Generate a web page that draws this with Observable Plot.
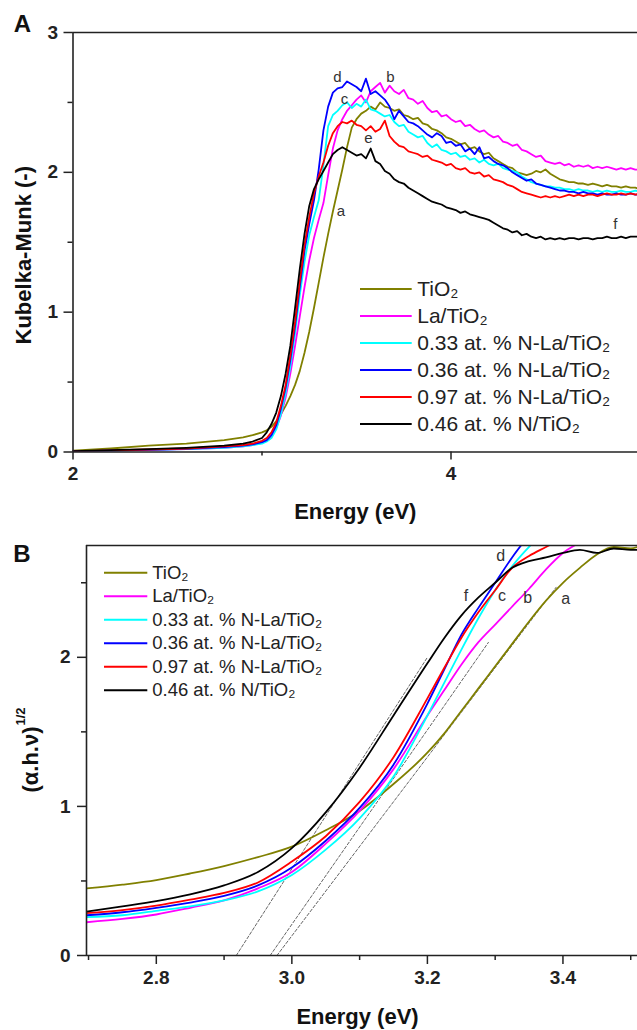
<!DOCTYPE html>
<html>
<head>
<meta charset="utf-8">
<script src="https://cdn.jsdelivr.net/npm/d3@7"></script>
<script src="https://cdn.jsdelivr.net/npm/@observablehq/plot@0.6"></script>
<style>
html,body{margin:0;padding:0;background:#fff;}
#chart{width:637px;height:1030px;overflow:hidden;}
#chart svg{display:block;}
</style>
</head>
<body>
<div id="chart"></div>
<script>
// ---------------- data ----------------
const sampleNames = ["TiO\u2082", "La/TiO\u2082", "0.33 at. % N-La/TiO\u2082", "0.36 at. % N-La/TiO\u2082", "0.97 at. % N-La/TiO\u2082", "0.46 at. % N/TiO\u2082"];
const sampleColors = ["#808000", "#ff00ff", "#00ffff", "#0000ff", "#ff0000", "#000000"];
const sampleLetters = ["a", "b", "c", "d", "e", "f"];

// Panel A : Kubelka-Munk vs energy
const energyA = [2.0,2.2,2.4,2.6,2.8,2.9,2.95,
 3.0,3.025,3.05,3.075,3.1,3.125,3.15,3.175,3.2,3.225,3.25,3.275,3.3,3.325,3.35,3.375,3.4,3.425,3.45,3.475,3.5,
 3.525,3.55,3.575,3.6,3.625,3.65,3.675,3.7,3.725,3.75,3.775,3.8,3.825,3.85,3.875,3.9,3.925,3.95,3.975,4.0,
 4.025,4.05,4.075,4.1,4.125,4.15,4.175,4.2,4.225,4.25,
 4.275,4.3,4.325,4.35,4.375,4.4,4.425,4.45,4.475,4.5,
 4.525,4.55,4.575,4.6,4.625,4.65,4.675,4.7,4.725,4.75,
 4.775,4.8,4.825,4.85,4.875,4.9,4.925,4.95,4.975,5.0];

const kmTiO2 = [0.01,0.025,0.045,0.06,0.085,0.105,0.12,
 0.14,0.155,0.18,0.22,0.27,0.33,0.40,0.48,0.58,0.71,0.86,1.03,1.21,1.39,1.56,1.72,1.87,2.02,2.18,2.32,2.38,
 2.42,2.44,2.47,2.45,2.50,2.47,2.46,2.44,2.45,2.41,2.40,2.38,2.39,2.35,2.34,2.31,2.30,2.28,2.25,2.24,
 2.22,2.20,2.21,2.17,2.18,2.15,2.13,2.14,2.10,2.08,
 2.06,2.04,2.03,2.00,1.99,1.98,1.99,2.01,2.00,2.02,
 1.99,1.97,1.95,1.94,1.93,1.93,1.92,1.92,1.91,1.92,
 1.91,1.90,1.91,1.90,1.90,1.89,1.90,1.89,1.89,1.88];

const kmLaTiO2 = [0.005,0.01,0.015,0.02,0.03,0.04,0.05,
 0.065,0.08,0.11,0.17,0.26,0.39,0.56,0.76,0.97,1.18,1.37,1.53,1.66,1.78,1.98,2.17,2.30,2.38,2.44,2.48,2.52,
 2.55,2.50,2.58,2.61,2.64,2.57,2.62,2.58,2.56,2.59,2.53,2.52,2.49,2.51,2.46,2.43,2.44,2.40,2.41,2.38,
 2.36,2.37,2.33,2.34,2.31,2.29,2.30,2.27,2.25,2.26,
 2.22,2.21,2.19,2.20,2.16,2.15,2.13,2.11,2.12,2.08,
 2.07,2.06,2.07,2.05,2.06,2.04,2.05,2.04,2.05,2.03,
 2.04,2.03,2.04,2.03,2.02,2.03,2.02,2.03,2.02,2.02];

const kmN033 = [0.005,0.01,0.015,0.02,0.03,0.04,0.05,
 0.06,0.075,0.10,0.16,0.27,0.42,0.61,0.85,1.12,1.36,1.55,1.68,1.80,2.05,2.33,2.41,2.44,2.48,2.50,2.46,2.49,
 2.47,2.52,2.45,2.44,2.42,2.40,2.41,2.36,2.33,2.34,2.29,2.27,2.25,2.26,2.21,2.18,2.20,2.16,2.15,2.13,
 2.14,2.11,2.12,2.09,2.10,2.07,2.09,2.06,2.05,2.06,
 2.03,2.02,2.01,2.00,1.97,1.95,1.93,1.92,1.91,1.90,
 1.90,1.89,1.89,1.88,1.88,1.87,1.88,1.87,1.87,1.86,
 1.87,1.86,1.87,1.86,1.86,1.87,1.86,1.86,1.87,1.86];

const kmN036 = [0.005,0.01,0.015,0.022,0.035,0.045,0.055,
 0.07,0.085,0.12,0.19,0.31,0.46,0.66,0.90,1.18,1.44,1.63,1.80,2.02,2.30,2.47,2.57,2.60,2.61,2.65,2.63,2.61,
 2.58,2.67,2.56,2.58,2.55,2.52,2.47,2.38,2.44,2.40,2.36,2.35,2.33,2.30,2.27,2.25,2.28,2.26,2.21,2.22,
 2.19,2.20,2.15,2.17,2.13,2.18,2.10,2.11,2.08,2.06,
 2.05,2.03,2.00,1.98,1.96,1.94,1.95,1.92,1.91,1.90,
 1.89,1.88,1.87,1.87,1.86,1.86,1.85,1.86,1.85,1.85,
 1.84,1.85,1.84,1.84,1.85,1.84,1.84,1.85,1.84,1.84];

const kmN097 = [0.005,0.012,0.018,0.025,0.04,0.05,0.06,
 0.08,0.10,0.14,0.21,0.33,0.48,0.69,0.93,1.22,1.48,1.68,1.85,1.97,2.07,2.19,2.28,2.33,2.36,2.35,2.37,2.34,
 2.33,2.30,2.33,2.29,2.31,2.37,2.26,2.22,2.19,2.18,2.15,2.14,2.13,2.11,2.12,2.09,2.08,2.07,2.05,2.06,
 2.03,2.02,2.03,2.00,1.99,2.00,1.97,1.98,1.95,1.94,
 1.93,1.91,1.90,1.88,1.86,1.85,1.84,1.83,1.82,1.83,
 1.82,1.83,1.82,1.83,1.84,1.83,1.84,1.83,1.84,1.84,
 1.83,1.84,1.85,1.84,1.84,1.85,1.84,1.85,1.84,1.85];

const kmN046 = [0.006,0.013,0.02,0.03,0.045,0.06,0.075,
 0.10,0.14,0.20,0.28,0.40,0.56,0.76,1.03,1.31,1.56,1.76,1.88,1.95,2.01,2.07,2.13,2.16,2.18,2.16,2.14,2.12,
 2.13,2.10,2.17,2.08,2.06,2.01,1.99,1.95,1.93,1.92,1.89,1.87,1.85,1.83,1.81,1.79,1.78,1.77,1.75,1.74,
 1.73,1.71,1.72,1.70,1.69,1.68,1.67,1.66,1.64,1.62,
 1.60,1.59,1.57,1.58,1.55,1.56,1.54,1.53,1.54,1.52,
 1.53,1.52,1.53,1.52,1.53,1.53,1.52,1.53,1.53,1.52,
 1.53,1.53,1.54,1.53,1.53,1.54,1.53,1.54,1.54,1.54];

const ticksAX = [2, 4];
const minorAX = [3, 5];
const ticksAY = [0, 1, 2, 3];
const minorAY = [0.5, 1.5, 2.5];
const letterAE = [3.418, 3.68, 3.437, 3.399, 3.563, 4.87];
const letterAV = [1.72, 2.68, 2.52, 2.68, 2.245, 1.63];

// Panel B : Tauc plot
const energyB = [2.697,2.75,2.8,2.85,2.9,2.95,3.0,3.05,3.1,3.15,3.2,3.225,3.25,3.275,3.3,3.325,3.35,3.375,3.4,3.425,3.45,3.475,3.5,3.51];
const taucTiO2 = [0.45,0.475,0.505,0.55,0.60,0.66,0.73,0.84,0.97,1.15,1.36,1.49,1.64,1.79,1.94,2.09,2.24,2.38,2.50,2.60,2.69,2.74,2.73,2.74];
const taucLaTiO2 = [0.223,0.245,0.275,0.32,0.37,0.45,0.56,0.75,0.97,1.25,1.61,1.78,1.95,2.10,2.22,2.34,2.46,2.59,2.70,2.77,null,null,null,null];
const taucN033 = [0.257,0.27,0.30,0.33,0.37,0.43,0.54,0.71,0.92,1.20,1.61,1.83,2.05,2.26,2.45,2.61,2.74,2.85,null,null,null,null,null,null];
const taucN036 = [0.27,0.29,0.32,0.355,0.40,0.47,0.59,0.77,0.99,1.28,1.69,1.92,2.15,2.33,2.50,2.67,2.82,null,null,null,null,null,null,null];
const taucN097 = [0.284,0.305,0.335,0.375,0.42,0.49,0.63,0.80,1.03,1.33,1.725,1.93,2.13,2.30,2.45,2.60,2.68,2.74,2.80,null,null,null,null,null];
const taucN046 = [0.295,0.33,0.365,0.41,0.47,0.56,0.72,0.96,1.26,1.61,1.96,2.13,2.28,2.40,2.50,2.60,2.645,2.67,2.70,2.72,2.70,2.73,2.72,2.72];
const tangentE0 = [2.918, 2.968, 2.978];
const tangentE1 = [3.2, 3.29, 3.39];
const tangentV1 = [2.0, 2.10, 2.47];
const ticksBX = [2.8, 3.0, 3.2, 3.4];
const minorBX = [2.7, 2.9, 3.1, 3.3, 3.5];
const ticksBY = [0, 1, 2];
const minorBY = [0.5, 1.5, 2.5];
const letterBE = [3.404, 3.348, 3.31, 3.308, null, 3.257];
const letterBV = [2.39, 2.40, 2.41, 2.68, null, 2.41];

// ---------------- drawing ----------------
const FONT = "'Liberation Sans', Arial, Helvetica, sans-serif";
const INK = "#222";
const rows = (energy, vals) => energy.map((e, i) => ({E: e, v: vals[i]})).filter(d => d.v != null);
const intFmt = d => String(d);
const title = {textAnchor: "middle", lineAnchor: "middle", fontWeight: "bold", fill: "#111"};

// ---- Panel A ----
const aL = 72.5, aR = 639.5, aT = 32, aB = 451.5, aH = 525;
const axA = px => 2 + (px - aL) * 3 / (aR - aL);
const ayA = py => (aB - py) * 3 / (aB - aT);
const kmSeries = [kmTiO2, kmLaTiO2, kmN033, kmN036, kmN097, kmN046];
const legA = sampleNames.map((n, i) => ({name: n, color: sampleColors[i], x1: axA(360), x2: axA(411.7), xt: axA(416.7), y: ayA(288.5 + 27 * i)}));
const lettersA = sampleLetters.map((l, i) => ({l, E: letterAE[i], v: letterAV[i]}));

const chartA = Plot.plot({
  width: 637, height: aH,
  marginTop: aT, marginBottom: aH - aB, marginLeft: aL, marginRight: 0,
  x: {domain: [2, 5], range: [aL, aR]},
  y: {domain: [0, 3]},
  style: {fontFamily: FONT, color: INK, background: "#fff", overflow: "hidden"},
  marks: [
    ...kmSeries.map((vals, i) => Plot.line(rows(energyA, vals), {x: "E", y: "v", stroke: sampleColors[i], strokeWidth: 1.8, clip: true})),
    Plot.ruleY([3], {stroke: INK, strokeWidth: 1.6}),
    Plot.ruleY([0], {stroke: INK, strokeWidth: 1.6}),
    Plot.ruleX([2], {stroke: INK, strokeWidth: 1.6}),
    Plot.axisX(ticksAX, {anchor: "bottom", tickSize: 8, tickPadding: 6, fontSize: 19, fontWeight: "bold", label: null, strokeWidth: 1.5, tickFormat: intFmt}),
    Plot.axisX(minorAX, {anchor: "bottom", tickSize: 4, tickFormat: () => "", label: null, strokeWidth: 1.5}),
    Plot.axisY(ticksAY, {anchor: "left", tickSize: 9, tickPadding: 6, fontSize: 19, fontWeight: "bold", label: null, strokeWidth: 1.5, tickFormat: intFmt}),
    Plot.axisY(minorAY, {anchor: "left", tickSize: 5, tickFormat: () => "", label: null, strokeWidth: 1.5}),
    Plot.ruleY(legA, {y: "y", x1: "x1", x2: "x2", stroke: "color", strokeWidth: 2}),
    Plot.text(legA, {x: "xt", y: "y", text: "name", textAnchor: "start", fontSize: 21, fill: INK}),
    Plot.text(lettersA, {x: "E", y: "v", text: "l", fontSize: 15, fill: "#333"}),
    Plot.text(["A"], {...title, frameAnchor: "top-left", dx: -50.5, dy: -8.5, fontSize: 24}),
    Plot.text(["Energy (eV)"], {...title, frameAnchor: "bottom", dy: 60, fontSize: 22}),
    Plot.text(["Kubelka-Munk (-)"], {...title, frameAnchor: "left", rotate: -90, dx: -49, dy: 13, fontSize: 22})
  ]
});

// ---- Panel B ----
const bL = 86, bT = 20, bBot = 430, bH = 505, bX0 = 2.697, bX1 = 3.51, bY1 = 2.75, bOff = 525;
const axB = px => bX0 + (px - bL) * (bX1 - bX0) / (637 - bL);
const ayB = py => (bOff + bBot - py) * bY1 / (bBot - bT);
const taucSeries = [taucTiO2, taucLaTiO2, taucN033, taucN036, taucN097, taucN046];
const legB = sampleNames.map((n, i) => ({name: n, color: sampleColors[i], x1: axB(104), x2: axB(147.3), xt: axB(151.7), y: ayB(572.3 + 23.5 * i)}));
const lettersB = sampleLetters.map((l, i) => ({l, E: letterBE[i], v: letterBV[i]})).filter(d => d.E != null);
const tangents = tangentE0.map((e, i) => [{E: e, v: 0}, {E: tangentE1[i], v: tangentV1[i]}]);

const chartB = Plot.plot({
  width: 637, height: bH,
  marginTop: bT, marginBottom: bH - bBot, marginLeft: bL, marginRight: 0,
  x: {domain: [bX0, bX1]},
  y: {domain: [0, bY1]},
  style: {fontFamily: FONT, color: INK, background: "#fff", overflow: "hidden"},
  marks: [
    ...tangents.map(t => Plot.line(t, {x: "E", y: "v", stroke: "#555", strokeWidth: 0.9, strokeDasharray: "3,2", clip: true})),
    ...taucSeries.map((vals, i) => Plot.line(rows(energyB, vals), {x: "E", y: "v", stroke: sampleColors[i], strokeWidth: 1.8, curve: "monotone-x", clip: true})),
    Plot.ruleY([bY1], {stroke: INK, strokeWidth: 1.6}),
    Plot.ruleY([0], {stroke: INK, strokeWidth: 1.6}),
    Plot.ruleX([bX0], {stroke: INK, strokeWidth: 1.6}),
    Plot.axisX(ticksBX, {anchor: "bottom", tickSize: 9, tickPadding: 6, fontSize: 19, fontWeight: "bold", label: null, strokeWidth: 1.5, tickFormat: d => d.toFixed(1)}),
    Plot.axisX(minorBX, {anchor: "bottom", tickSize: 5, tickFormat: () => "", label: null, strokeWidth: 1.5}),
    Plot.axisY(ticksBY, {anchor: "left", tickSize: 9, tickPadding: 7, fontSize: 19, fontWeight: "bold", label: null, strokeWidth: 1.5, tickFormat: intFmt}),
    Plot.axisY(minorBY, {anchor: "left", tickSize: 5, tickFormat: () => "", label: null, strokeWidth: 1.5}),
    Plot.ruleY(legB, {y: "y", x1: "x1", x2: "x2", stroke: "color", strokeWidth: 2}),
    Plot.text(legB, {x: "xt", y: "y", text: "name", textAnchor: "start", fontSize: 18.5, fill: INK}),
    Plot.text(lettersB, {x: "E", y: "v", text: "l", fontSize: 16, fill: "#333"}),
    Plot.text(["B"], {...title, frameAnchor: "top-left", dx: -64.5, dy: 8.5, fontSize: 24}),
    Plot.text(["Energy (eV)"], {...title, frameAnchor: "bottom", dx: -4.5, dy: 61.7, fontSize: 22}),
    Plot.text(["(\u03b1.h.\u03bd)"], {...title, frameAnchor: "left", rotate: -90, dx: -56, dy: 9, fontSize: 22}),
    Plot.text(["1/2"], {...title, frameAnchor: "left", rotate: -90, dx: -66, dy: -34, fontSize: 13})
  ]
});

const host = document.getElementById("chart");
host.appendChild(chartA);
host.appendChild(chartB);
</script>
</body>
</html>
